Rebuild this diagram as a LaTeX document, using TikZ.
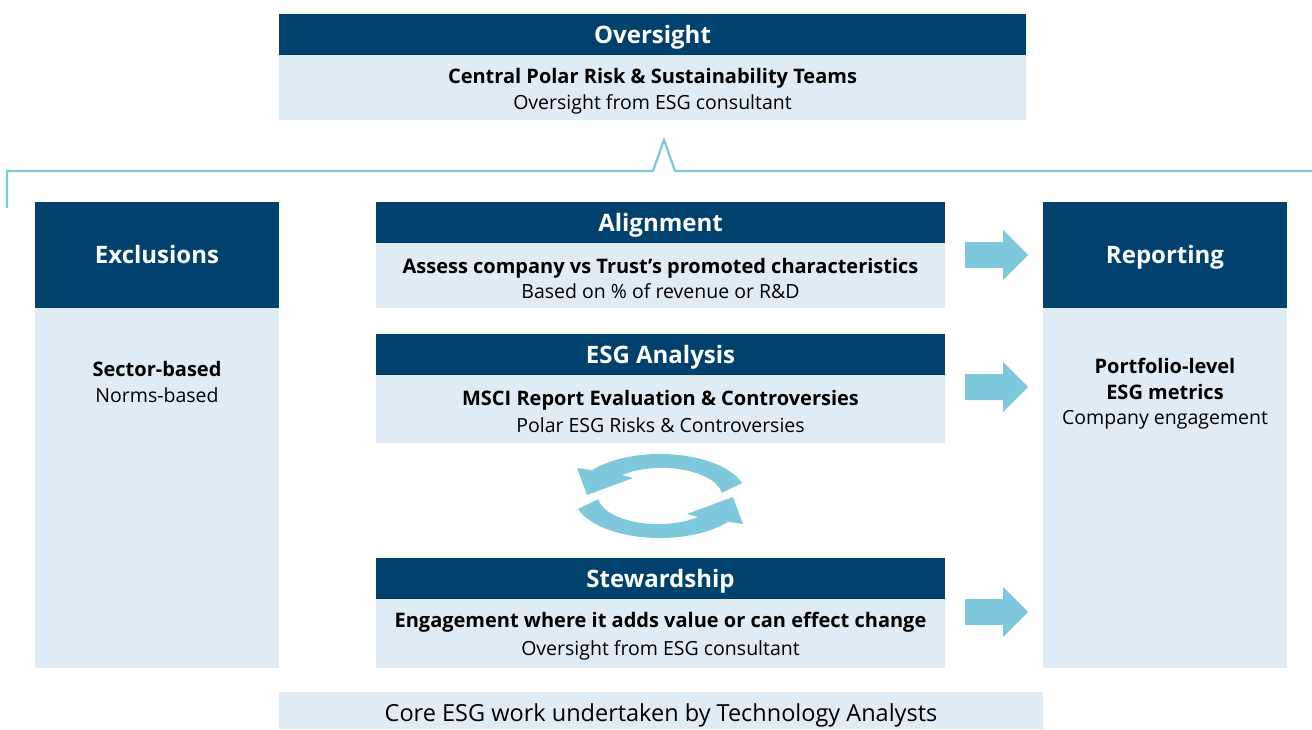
\documentclass[tikz,border=0pt]{standalone}
\usepackage{fontspec}
\setmainfont{Open Sans}
\usetikzlibrary{arrows.meta}
\definecolor{navy}{RGB}{0,65,110}
\definecolor{pale}{RGB}{224,236,245}
\definecolor{sky}{RGB}{126,200,220}
\newcommand\boldline[1]{{\fontsize{20}{25.5}\selectfont\bfseries #1}}
\tikzset{
  hdr/.style={fill=navy, text=white, font=\bfseries\fontsize{24}{28}\selectfont, inner sep=0pt, align=center, text height=17pt, text depth=0pt},
  bdy/.style={fill=pale, inner sep=0pt},
  txt/.style={text=black, font=\fontsize{19.5}{25.5}\selectfont, inner sep=0pt, align=center},
  bracketline/.style={draw=sky, line width=2.2pt},
  blockarrow/.style={fill=sky},
  cyclearrow/.style={fill=sky}
}
\begin{document}
\begin{tikzpicture}[x=1pt,y=-1pt]
\useasboundingbox (0,0) rectangle (1312,729);
% Oversight
\node[hdr, minimum width=747pt, minimum height=42pt] (ovh) at (652.5,34.5) {Oversight};
\node[bdy, minimum width=747pt, minimum height=65pt] (ovb) at (652.5,87.5) {};
\node[txt] (ovt) at (652.5,91) {\boldline{Central Polar Risk \& Sustainability Teams}\\Oversight from ESG consultant};
% bracket
\coordinate (bl) at (7,208);
\coordinate (br) at (1312,171);
\draw[bracketline] (bl) -- (7,171) -- (653,171) -- (664,140) -- (675,171) -- (br);
% Exclusions
\node[hdr, minimum width=244pt, minimum height=107pt] (exh) at (157,255) {Exclusions};
\node[bdy, minimum width=244pt, minimum height=360pt] (exb) at (157,488) {};
\node[txt] (ext) at (157,382) {\boldline{Sector-based}\\Norms-based};
% Reporting
\node[hdr, minimum width=244pt, minimum height=107pt] (reh) at (1165,255) {Reporting};
\node[bdy, minimum width=244pt, minimum height=360pt] (reb) at (1165,488) {};
\node[txt] (ret) at (1165,394) {\boldline{Portfolio-level}\\\boldline{ESG metrics}\\Company engagement};
% Alignment
\node[hdr, minimum width=569pt, minimum height=42pt] (alh) at (660.5,222.5) {Alignment};
\node[bdy, minimum width=569pt, minimum height=65pt] (alb) at (660.5,275.5) {};
\node[txt] (alt) at (660.5,278.5) {\boldline{Assess company vs Trust’s promoted characteristics}\\Based on \% of revenue or R\&D};
% ESG Analysis
\node[hdr, minimum width=569pt, minimum height=42pt] (esh) at (660.5,354.5) {ESG Analysis};
\node[bdy, minimum width=569pt, minimum height=68pt] (esb) at (660.5,409) {};
\node[txt, font=\fontsize{19.5}{27.5}\selectfont] (est) at (660.5,411.5) {\boldline{MSCI Report Evaluation \& Controversies}\\Polar ESG Risks \& Controversies};
% Stewardship
\node[hdr, minimum width=569pt, minimum height=42pt] (sth) at (660.5,578.5) {Stewardship};
\node[bdy, minimum width=569pt, minimum height=69pt] (stb) at (660.5,633.5) {};
\node[txt, font=\fontsize{19.5}{28.5}\selectfont] (stt) at (660.5,636) {\boldline{Engagement where it adds value or can effect change}\\Oversight from ESG consultant};
% Footer
\node[bdy, minimum width=764pt, minimum height=37pt] (ftb) at (661,710.5) {};
\node[txt, font=\fontsize{23.5}{26}\selectfont] (ftt) at (661,715) {Core ESG work undertaken by Technology Analysts};
% block arrows
\foreach \c in {255,387,612}{
  \fill[blockarrow] (965,\c-13) -- (1003,\c-13) -- (1003,\c-25) -- (1028,\c) -- (1003,\c+25) -- (1003,\c+13) -- (965,\c+13) -- cycle;
}
% cycle arrows
\def\cyclepath{(742,483) arc[start angle=-18, end angle=-142, x radius=86.2, y radius=42] -- (577,468) -- (587,495) -- (633,478) -- (622,475) arc[start angle=-131, end angle=-8, x radius=60.6, y radius=29] -- cycle}
\fill[cyclearrow] \cyclepath;
\begin{scope}[rotate around={180:(660,496)}]
\fill[cyclearrow] \cyclepath;
\end{scope}
\end{tikzpicture}
\end{document}
